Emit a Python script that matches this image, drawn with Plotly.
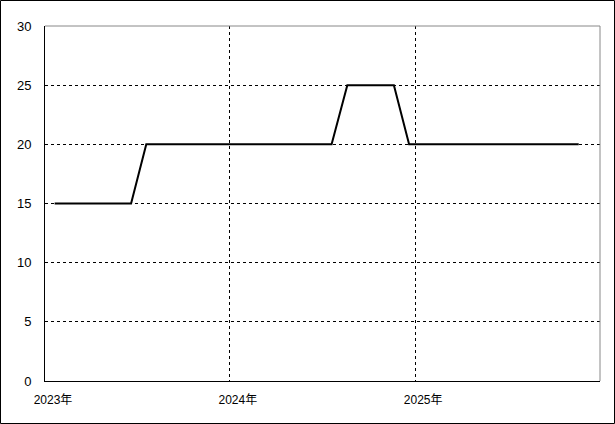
import plotly.graph_objects as go

# monthly readings, one per month from Jan 2023 to Nov 2025
dates = [
    "2023-01-20", "2023-02-20", "2023-03-20", "2023-04-20", "2023-05-20", "2023-06-20",
    "2023-07-20", "2023-08-20", "2023-09-20", "2023-10-20", "2023-11-20", "2023-12-20",
    "2024-01-20", "2024-02-20", "2024-03-20", "2024-04-20", "2024-05-20", "2024-06-20",
    "2024-07-20", "2024-08-20", "2024-09-20", "2024-10-20", "2024-11-20", "2024-12-20",
    "2025-01-20", "2025-02-20", "2025-03-20", "2025-04-20", "2025-05-20", "2025-06-20",
    "2025-07-20", "2025-08-20", "2025-09-20", "2025-10-20", "2025-11-20",
]
values = [
    15, 15, 15, 15, 15, 15,
    20, 20, 20, 20, 20, 20,
    20, 20, 20, 20, 20, 20,
    20, 25, 25, 25, 25, 20,
    20, 20, 20, 20, 20, 20,
    20, 20, 20, 20, 20,
]
x_ticks = ["2023-01-01", "2024-01-01", "2025-01-01"]
x_labels = ["2023年", "2024年", "2025年"]
y_ticks = [0, 5, 10, 15, 20, 25, 30]

W, H = 615, 424
L, R, T, B = 45, 15, 26, 43

fig = go.Figure()
fig.add_trace(go.Scatter(x=dates, y=values, mode="lines",
                         line=dict(color="black", width=2), hoverinfo="x+y"))

font = "Liberation Sans, Arial, Noto Sans CJK JP, sans-serif"
fig.update_layout(
    width=W, height=H,
    margin=dict(l=L, r=R, t=T, b=B),
    paper_bgcolor="white", plot_bgcolor="white",
    showlegend=False,
    font=dict(family=font, color="black"),
    xaxis=dict(
        type="date", range=["2023-01-01", "2026-01-01"],
        tickvals=x_ticks, ticktext=x_labels,
        tickfont=dict(size=12), ticklabelshift=8, ticklabelstandoff=8,
        showgrid=True, gridcolor="black", griddash="3px,3px", gridwidth=1,
        showline=True, linecolor="black", linewidth=1,
        zeroline=False, fixedrange=True,
    ),
    yaxis=dict(
        range=[0, 30], tickvals=y_ticks,
        tickfont=dict(size=13), ticklabelstandoff=10,
        showgrid=True, gridcolor="black", griddash="3px,3px", gridwidth=1,
        showline=True, linecolor="black", linewidth=1,
        zeroline=False, fixedrange=True,
    ),
)

# gray top/right frame of the plot area
fig.add_shape(type="line", xref="paper", yref="paper", x0=0, x1=1, y0=1, y1=1,
              line=dict(color="#888888", width=1))
fig.add_shape(type="line", xref="paper", yref="paper", x0=1, x1=1, y0=0, y1=1,
              line=dict(color="#888888", width=1))

# black border around the whole picture
pw, ph = W - L - R, H - T - B
fig.add_shape(type="rect", xref="paper", yref="paper",
              x0=(0.5 - L) / pw, x1=(W - 0.5 - L) / pw,
              y0=-(B - 0.5) / ph, y1=1 + (T - 0.5) / ph,
              line=dict(color="black", width=1))

# page body has a default 8px margin, drop it so the chart fills the window
fig.write_html("out.html", config={"displayModeBar": False},
               post_script="document.body.style.margin='0';document.body.style.overflow='hidden';")
